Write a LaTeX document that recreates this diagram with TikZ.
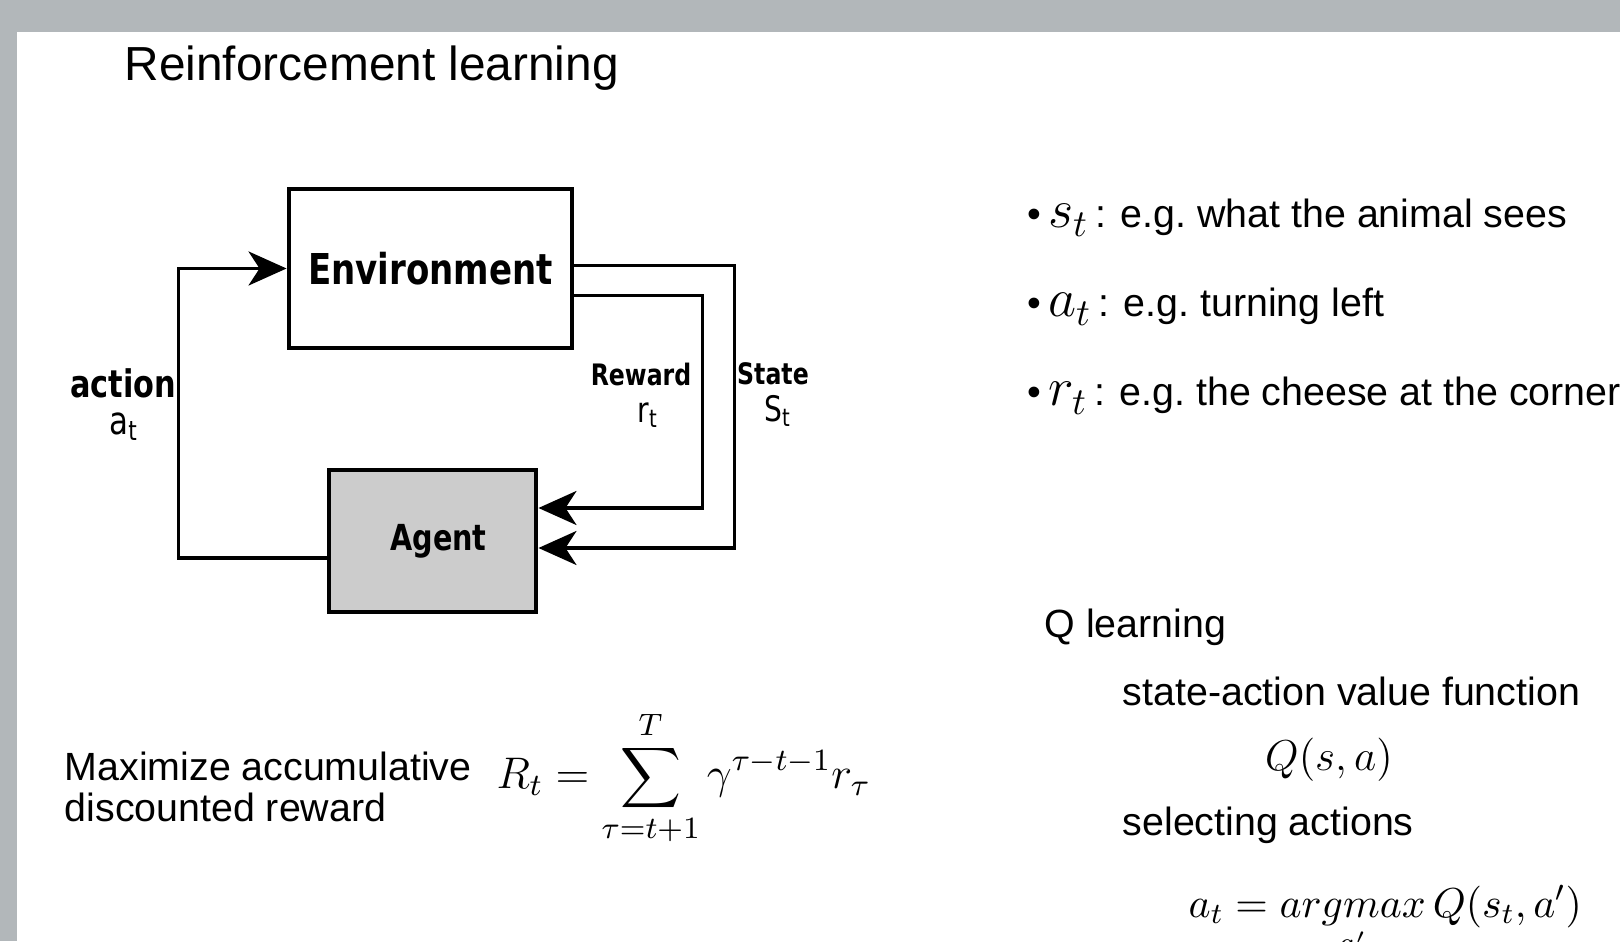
\RequirePackage{fix-cm}
\documentclass[tikz,border=0pt]{standalone}
\usepackage{amsmath}
\usepackage[no-math]{fontspec}
\setmainfont{Liberation Sans}
\newfontfamily\diagfont[FakeStretch=0.8]{DejaVu Sans}
\usetikzlibrary{
    arrows.meta,
    positioning,
    calc
}
\definecolor{slidegray}{RGB}{178,183,186}
\definecolor{agentgray}{RGB}{204,204,204}
\newcommand{\bulletmath}{\fontsize{15.5}{17}\selectfont}

\begin{document}
\begin{tikzpicture}[
    box/.style={
        rectangle,
        draw=black,
        line width=1.4pt,
        align=center,
        inner sep=0pt
    },
    envbox/.style={box, fill=white, minimum width=2.83cm, minimum height=1.59cm,
        font=\diagfont\bfseries\fontsize{12.1}{14}\selectfont},
    agentbox/.style={box, fill=agentgray, minimum width=2.07cm, minimum height=1.42cm,
        font=\diagfont\bfseries\fontsize{10.2}{12}\selectfont},
    flow/.style={line width=1pt, -{Stealth[length=0.38cm, width=0.34cm, inset=0.11cm]}},
    looplabel/.style={font=\diagfont\bfseries\fontsize{8.4}{10}\selectfont, inner sep=0pt},
    sublabel/.style={font=\diagfont\fontsize{10}{12}\selectfont, inner sep=0pt},
    titletext/.style={font=\fontsize{13.6}{16}\selectfont, inner sep=0pt},
    bodytext/.style={font=\fontsize{11.2}{11.7}\selectfont, inner sep=0pt, align=left},
    mathtext/.style={font=\fontsize{12.3}{15}\selectfont, inner sep=0pt}
]

% Slide frame
\useasboundingbox (0,0) rectangle (16.2,9.41);
\fill[slidegray] (0,0) rectangle (16.2,9.41);
\fill[white] (0.17,0) rectangle (16.2,9.09);

% Title
\node[titletext, anchor=base west] (title) at (1.24, 8.60) {Reinforcement learning};

% Agent-environment loop
\node[envbox] (env) at (4.305, 6.725) {Environment};
\node[agentbox] (agent) at (4.325, 4.00) {\hspace*{0.12cm}\raisebox{0.08cm}{Agent}};

\draw[flow] ([yshift=-0.17cm]agent.west) -- ++(-1.48,0) |- (env.west);
\draw[flow] ([yshift=-0.27cm]env.east) -- ++(1.28,0) |- ([yshift=0.33cm]agent.east);
\draw[flow] ([yshift=0.03cm]env.east) -- ++(1.60,0) |- ([yshift=-0.07cm]agent.east);

% Loop labels
\node[looplabel, font=\diagfont\bfseries\fontsize{10.8}{12}\selectfont] (action) at (1.23, 5.58) {action};
\node[sublabel, font=\diagfont\fontsize{11}{12}\selectfont] (actsym) at (1.24, 5.14) {a\textsubscript{t}};
\node[looplabel] (rewardlbl) at (6.41, 5.67) {Reward};
\node[sublabel] (rewsym) at (6.48, 5.26) {r\textsubscript{t}};
\node[looplabel] (statelbl) at (7.73, 5.67) {State};
\node[sublabel] (statesym) at (7.78, 5.30) {S\textsubscript{t}};

% Return
\node[bodytext, anchor=west] (goal) at (0.64, 1.545) {Maximize accumulative\\discounted reward};
\node[mathtext, font=\fontsize{12.6}{15}\selectfont, anchor=west] (ret) at (4.96, 1.63)
    {$\displaystyle R_t = \sum_{\tau=t+1}^{T} \gamma^{\tau-t-1} r_\tau$};

% Notation
\node[bodytext, anchor=base west] (sitem) at (10.27, 7.13)
    {\textbullet\,{\bulletmath$s_t$}\,: e.g.\ what the animal sees};
\node[bodytext, anchor=base west] (aitem) at (10.27, 6.24)
    {\textbullet\,{\bulletmath$a_t$}\,: e.g.\ turning left};
\node[bodytext, anchor=base west] (ritem) at (10.27, 5.35)
    {\textbullet\,{\bulletmath$r_t$}\,: e.g.\ the cheese at the corner};

% Q learning
\node[bodytext, anchor=base west] (qhead) at (10.44, 3.04) {Q learning};
\node[bodytext, anchor=base west] (qvalue) at (11.22, 2.36) {state-action value function};
\node[mathtext, anchor=base] (qfunc) at (13.29, 1.71) {$Q(s,a)$};
\node[bodytext, anchor=base west] (qselect) at (11.22, 1.06) {selecting actions};
\node[mathtext, font=\fontsize{11.9}{15}\selectfont, anchor=base west] (qgreedy) at (11.88, 0.24)
    {$a_t = \mathop{argmax}\limits_{a'} Q(s_t,a')$};

\end{tikzpicture}
\end{document}
